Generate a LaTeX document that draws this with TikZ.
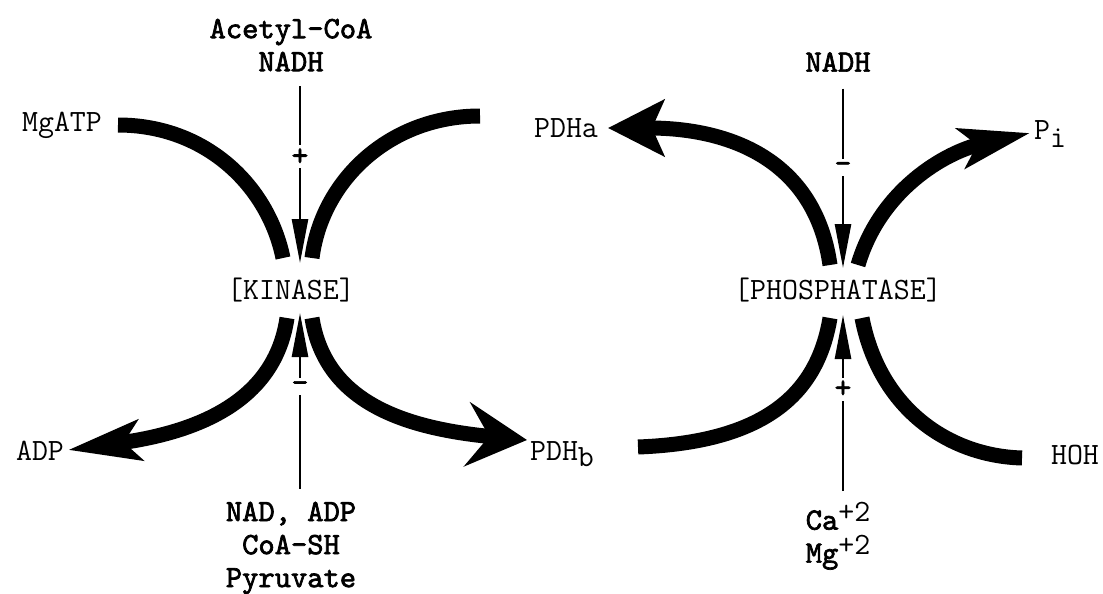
\documentclass[tikz,border=0pt]{standalone}
\usepackage{fontspec}
\newfontfamily\efftt{lmmono10-regular.otf}[FakeBold=2.2]
\usepackage{tikz}
\usetikzlibrary{arrows.meta}

\begin{document}
\begin{tikzpicture}[x=0.5pt,y=-0.5pt,
    lbl/.style={font=\fontsize{15.5}{17}\selectfont\ttfamily},
    blbl/.style={font=\fontsize{15.5}{16.5}\selectfont\efftt,align=center},
    flow/.style={line width=7.5pt},
    reg/.style={line width=1.3pt,-{Triangle[length=22pt,width=8pt]}},
    sgn/.style={fill=white,inner sep=1.5pt,font=\fontsize{16}{16}\selectfont\efftt}]
    \useasboundingbox (0,0) rectangle (1103,594);

    % enzymes
    \node[lbl] (kin) at (291,290) {[KINASE]};
    \node[lbl] (phos) at (838,290) {[PHOSPHATASE]};

    % substrates and products
    \node[lbl] (atp) at (62,125) {MgATP};
    \node[lbl] (adp) at (40,451) {ADP};
    \node[lbl] (pdha) at (566,128) {PDHa};
    \node[lbl] (pdhb) at (562,454) {PDH\raisebox{-0.5ex}{b}};
    \node[lbl] (pi) at (1050,134) {P\raisebox{-0.6ex}{i}};
    \node[lbl] (hoh) at (1075,455) {HOH};

    % effectors
    \node[blbl] (acoa) at (291,45) {Acetyl-CoA\\NADH};
    \node[blbl] (nad) at (291,548) {NAD, ADP\\CoA-SH\\Pyruvate};
    \node[blbl] (nadh) at (838,62) {NADH};
    \node[blbl] (ca) at (838,536) {Ca\raisebox{0.6ex}{\ttfamily +2}\\Mg\raisebox{0.6ex}{\ttfamily +2}};

    % ends of the flux lines
    \coordinate (k1) at (118,125);
    \coordinate (k2) at (283,258);
    \coordinate (k3) at (312,258);
    \coordinate (k4) at (480,116);
    \coordinate (k5) at (287,318);
    \coordinate (k6) at (68,450);
    \coordinate (k7) at (312,318);
    \coordinate (k8) at (527,440);
    \coordinate (p1) at (830,265);
    \coordinate (p2) at (608,128);
    \coordinate (p3) at (858,265);
    \coordinate (p4) at (1030,133);
    \coordinate (p5) at (638,447);
    \coordinate (p6) at (830,318);
    \coordinate (p7) at (862,318);
    \coordinate (p8) at (1022,458);

    % kinase
    \draw[flow] (k1) .. controls (205,125) and (268,185) .. (k2);
    \draw[flow] (k3) .. controls (322,180) and (390,116) .. (k4);
    \draw[flow,-{Stealth[length=36pt,width=20pt,inset=8pt]}] (k5) .. controls (275,400) and (200,432) .. (k6);
    \draw[flow,-{Stealth[length=30pt,width=32pt,inset=11pt]}] (k7) .. controls (325,400) and (400,428) .. (k8);

    % phosphatase
    \draw[flow,-{Stealth[length=28pt,width=28pt,inset=6pt]}] (p1) .. controls (815,160) and (730,128) .. (p2);
    \draw[flow,-{Stealth[length=35pt,width=20pt,inset=8pt]}] (p3) .. controls (880,190) and (945,152) .. (p4);
    \draw[flow] (p5) .. controls (770,442) and (818,390) .. (p6);
    \draw[flow] (p7) .. controls (880,410) and (950,456) .. (p8);

    % effectors
    \coordinate (kt) at (300,263);
    \coordinate (kb) at (300,313);
    \coordinate (pt) at (843,268);
    \coordinate (pb) at (843,315);
    \draw[reg] (acoa.south -| kt) ++(0,8) -- node[sgn,pos=0.4] {+} (kt);
    \draw[reg] (nad.north -| kb) ++(0,-6) -- node[sgn,pos=0.58] {\textendash} (kb);
    \draw[reg] (nadh.south -| pt) ++(0,10) -- node[sgn,pos=0.44] {\textendash} (pt);
    \draw[reg] (ca.north -| pb) ++(0,-4) -- node[sgn,pos=0.58] {+} (pb);
\end{tikzpicture}
\end{document}
